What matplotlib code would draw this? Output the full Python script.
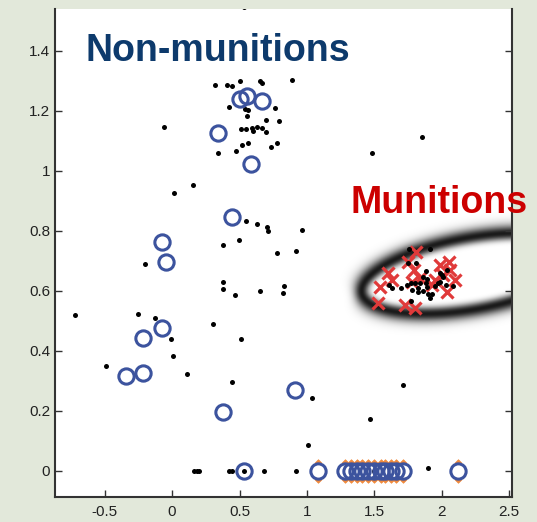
import numpy as np
import matplotlib
matplotlib.use("Agg")
import matplotlib.pyplot as plt
from matplotlib.path import Path

plt.rcParams['font.family'] = ['Liberation Sans', 'DejaVu Sans']

# unlabelled detections (black dots)
dot_x = [0.53, 0.32, 0.41, 0.445, 0.50, 0.65, 0.67, 0.89, 0.42, 0.54, 0.56, 0.556,
         0.76, 0.70, 0.79, -0.06, 0.51, 0.55, 0.59, 0.60, 0.63, 0.67, 0.70, 0.34,
         0.475, 0.52, 0.565, 0.73, 0.78, 1.48, 1.85, 0.156, 0.015, 0.55, 0.63, 0.705,
         0.71, 0.96, 0.378, 0.497, 0.78, 0.92, -0.20, 0.38, 0.38, 0.47, 0.65, 0.83,
         0.82, -0.72, -0.25, -0.13, 0.30, -0.01, 0.51, -0.49, 0.007, 0.11, 0.445,
         1.04, 1.01, 1.47, 1.71, 0.16, 0.185, 0.20, 0.42, 0.445, 0.534, 0.68, 0.92,
         1.90, 1.50,
         1.76, 1.91, 1.75, 1.81, 1.88, 1.99, 2.04, 2.00, 1.86, 1.89, 1.61, 1.63, 1.70,
         1.74, 1.77, 1.80, 1.84, 1.88, 1.89, 1.82, 1.78, 1.82, 1.86, 1.90, 1.91, 1.93,
         1.95, 1.99, 2.03, 2.08, 1.77, 1.97, 2.01]
dot_y = [1.545, 1.287, 1.287, 1.283, 1.300, 1.300, 1.293, 1.303, 1.213, 1.207, 1.203, 1.183,
         1.210, 1.170, 1.167, 1.147, 1.140, 1.140, 1.143, 1.133, 1.147, 1.143, 1.130, 1.060,
         1.067, 1.087, 1.093, 1.080, 1.093, 1.060, 1.113, 0.953, 0.927, 0.833, 0.823, 0.813,
         0.800, 0.803, 0.753, 0.770, 0.727, 0.733, 0.690, 0.630, 0.607, 0.587, 0.600, 0.617,
         0.593, 0.520, 0.523, 0.510, 0.490, 0.440, 0.440, 0.350, 0.383, 0.323, 0.297,
         0.243, 0.087, 0.173, 0.287, 0.0, 0.0, 0.0, 0.0, 0.0, 0.0, 0.0, 0.0,
         0.010, 0.0,
         0.740, 0.740, 0.693, 0.693, 0.667, 0.660, 0.670, 0.653, 0.647, 0.640, 0.620, 0.610, 0.610,
         0.620, 0.627, 0.627, 0.627, 0.627, 0.613, 0.610, 0.603, 0.597, 0.600, 0.590, 0.577, 0.590,
         0.617, 0.630, 0.620, 0.617, 0.567, 0.627, 0.647]

# labelled munitions
mun_x = [1.81, 1.75, 1.79, 1.60, 1.63, 1.54, 1.53, 1.73, 1.80, 1.84, 1.99, 2.05,
         2.06, 2.01, 2.10, 2.04, 1.95, 1.93, 1.78]
mun_y = [0.730, 0.697, 0.670, 0.660, 0.637, 0.613, 0.560, 0.553, 0.543, 0.643, 0.687, 0.697,
         0.670, 0.653, 0.637, 0.597, 0.637, 0.620, 0.630]

# labelled non-munitions
non_x = [0.505, 0.556, 0.668, 0.341, 0.586, 0.445, -0.074, -0.045, -0.074, -0.215,
         -0.215, -0.341, 0.378, 0.534, 0.912]
non_y = [1.240, 1.250, 1.233, 1.127, 1.023, 0.847, 0.763, 0.697, 0.477, 0.443,
         0.327, 0.317, 0.197, 0.0, 0.270]

# non-munitions sitting on the zero line (orange marks underneath)
zero_x = [1.08, 1.28, 1.33, 1.37, 1.41, 1.45, 1.50, 1.55, 1.58, 1.62, 1.66, 1.71, 2.12]
zero_y = [0.0] * len(zero_x)

# decision boundary ellipse around the munitions cluster
ell_cx, ell_cy = 2.226, 0.657
ell_a, ell_b = 112.0, 36.0     # semi axes in pixels
ell_ang = 10.0                 # degrees
ell_sigma = 7.5

xlim = (-0.868, 2.52)
ylim = (-0.087, 1.54)
sx, sy = 134.8, 300.0          # pixels per data unit

bg = '#e2e8da'
fig = plt.figure(figsize=(5.37, 5.22), dpi=100, facecolor=bg)
ax = fig.add_axes([0.1024, 0.0479, 0.851, 0.9349])
ax.set_facecolor('white')

# blurred ring
gx = np.linspace(xlim[0], xlim[1], 700)
gy = np.linspace(ylim[0], ylim[1], 500)
X, Y = np.meshgrid(gx, gy)
px = (X - ell_cx) * sx
py = (Y - ell_cy) * sy
t = np.deg2rad(ell_ang)
u = px * np.cos(t) + py * np.sin(t)
v = -px * np.sin(t) + py * np.cos(t)
f = (u / ell_a) ** 2 + (v / ell_b) ** 2 - 1
grad = 2 * np.sqrt(u ** 2 / ell_a ** 4 + v ** 2 / ell_b ** 4) + 1e-9
dist = f / grad
inten = np.exp(-(dist / ell_sigma) ** 2) * 0.9
img = np.zeros(X.shape + (4,))
img[..., 3] = inten
ax.imshow(img, extent=[xlim[0], xlim[1], ylim[0], ylim[1]], origin='lower',
          aspect='auto', interpolation='bilinear', zorder=1)

# small orange tips above and below each zero-line circle
tips = Path([(-0.3, 0.7), (0.3, 0.7), (0, 1.0), (-0.3, 0.7),
             (-0.3, -0.7), (0.3, -0.7), (0, -1.0), (-0.3, -0.7)],
            [Path.MOVETO, Path.LINETO, Path.LINETO, Path.CLOSEPOLY,
             Path.MOVETO, Path.LINETO, Path.LINETO, Path.CLOSEPOLY])

ax.plot(mun_x, mun_y, 'x', color='#e03a3a', ms=9, mew=2.3, zorder=3)
ax.plot(dot_x, dot_y, 'o', color='black', ms=3.6, mew=0, zorder=4)
ax.plot(zero_x, zero_y, ls='none', marker=tips, color='#f08a3c', mec='#f08a3c',
        ms=17, mew=0.5, zorder=4)
ax.plot(non_x + zero_x, non_y + zero_y, 'o', mfc='none', mec='#3c539e',
        ms=11, mew=2.2, zorder=5)

ax.set_xlim(*xlim)
ax.set_ylim(*ylim)
ax.set_xticks([-0.5, 0, 0.5, 1, 1.5, 2, 2.5])
ax.set_xticklabels(['-0.5', '0', '0.5', '1', '1.5', '2', '2.5'])
ax.set_yticks([0, 0.2, 0.4, 0.6, 0.8, 1, 1.2, 1.4])
ax.set_yticklabels(['0', '0.2', '0.4', '0.6', '0.8', '1', '1.2', '1.4'])
ax.tick_params(direction='in', length=5, width=1, colors='#333333',
               labelsize=11, right=True, top=False, labelcolor='#222222')
ax.tick_params(axis='x', pad=6)
for s in ['left', 'bottom', 'right']:
    ax.spines[s].set_color('#333333')
    ax.spines[s].set_linewidth(1.5)
ax.spines['top'].set_visible(False)

ax.text(-0.645, 1.367, 'Non-munitions', color='#0d3a6c', fontsize=27,
        fontweight='bold', zorder=6)
ax.text(1.32, 0.86, 'Munitions', color='#cc0000', fontsize=27,
        fontweight='bold', clip_on=False, zorder=6)

fig.savefig('out.png', dpi=100, facecolor=bg)
